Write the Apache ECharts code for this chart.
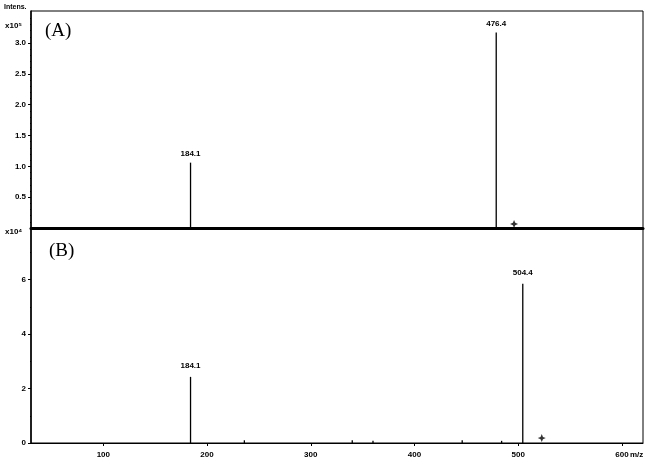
<!DOCTYPE html>
<html><head><meta charset="utf-8">
<script src="https://cdn.jsdelivr.net/npm/echarts@6/dist/echarts.min.js"></script>
<style>html,body{margin:0;padding:0;background:#fff}#c{width:654px;height:470px}</style>
</head><body><div id="c"></div>
<script>
// Panel A (x10^5)
const peaksA_mz = [184.1, 478.8];
const peaksA_int = [1.06, 3.17];
const peaksA_label = ['184.1', '476.4'];
const markerA = [[496, 0.065]];
// Panel B (x10^4)
const peaksB_mz = [184.1, 236, 340, 360, 446, 484, 504.4];
const peaksB_int = [2.43, 0.1, 0.1, 0.08, 0.1, 0.08, 5.85];
const peaksB_label = ['184.1', '', '', '', '', '', '504.4'];
const markerB = [[522.7, 0.18]];
const xTicks = [100, 200, 300, 400, 500, 600];
const yTicksA = [0.5, 1.0, 1.5, 2.0, 2.5, 3.0];
const yTicksB = [0, 2, 4, 6];

const tickFont = {fontFamily: 'Liberation Sans, Arial', fontSize: 8, fontWeight: 'bold', color: '#000'};
const star = 'path://M0,-10 L3,-3 L10,0 L3,3 L0,10 L-3,3 L-10,0 L-3,-3Z';

function peakData(mz, it, lab) {
  return mz.map((m, i) => ({value: [m, it[i]], lab: lab[i]}));
}
const chart = echarts.init(document.getElementById('c'));
chart.setOption({
  animation: false,
  grid: [
    {left: 31, right: 11, top: 11, height: 217, show: true, borderColor: '#000', borderWidth: 1},
    {left: 31, right: 11, top: 228, height: 215, show: true, borderColor: '#000', borderWidth: 1}
  ],
  xAxis: [
    {gridIndex: 0, type: 'value', min: 30.3, max: 620.3, axisLine: {lineStyle: {color: '#000', width: 3}},
     axisTick: {show: false}, axisLabel: {show: false}, splitLine: {show: false}},
    {gridIndex: 1, type: 'value', min: 30.3, max: 620.3, axisLine: {lineStyle: {color: '#000', width: 1}},
     axisTick: {show: true, length: 3, customValues: xTicks, lineStyle: {color: '#000'}},
     axisLabel: Object.assign({customValues: xTicks, margin: 8}, tickFont), splitLine: {show: false}}
  ],
  yAxis: [
    {gridIndex: 0, type: 'value', min: 0, max: 3.52, interval: 0.5,
     axisLine: {show: true, lineStyle: {color: '#000', width: 1.5}},
     axisTick: {show: true, length: 3, customValues: yTicksA, lineStyle: {color: '#000'}},
     minorTick: {show: true, splitNumber: 5, length: 1, lineStyle: {color: '#000'}},
     axisLabel: Object.assign({customValues: yTicksA, margin: 5, formatter: v => v.toFixed(1)}, tickFont),
     splitLine: {show: false}},
    {gridIndex: 1, type: 'value', min: 0, max: 7.9, interval: 2,
     axisLine: {show: true, lineStyle: {color: '#000', width: 1.5}},
     axisTick: {show: true, length: 3, customValues: yTicksB, lineStyle: {color: '#000'}},
     minorTick: {show: true, splitNumber: 2, length: 1, lineStyle: {color: '#000'}},
     axisLabel: Object.assign({customValues: yTicksB, margin: 5}, tickFont),
     splitLine: {show: false}}
  ],
  series: [
    {type: 'bar', xAxisIndex: 0, yAxisIndex: 0, barWidth: 1.3, itemStyle: {color: '#000'},
     data: peakData(peaksA_mz, peaksA_int, peaksA_label),
     label: {show: true, position: 'top', distance: 5, formatter: p => p.data.lab, fontFamily: 'Liberation Sans, Arial', fontSize: 8, fontWeight: 'bold', color: '#000'}},
    {type: 'bar', xAxisIndex: 1, yAxisIndex: 1, barWidth: 1.3, itemStyle: {color: '#000'},
     data: peakData(peaksB_mz, peaksB_int, peaksB_label),
     label: {show: true, position: 'top', distance: 7, formatter: p => p.data.lab, fontFamily: 'Liberation Sans, Arial', fontSize: 8, fontWeight: 'bold', color: '#000'}},
    {type: 'scatter', xAxisIndex: 0, yAxisIndex: 0, symbol: star, symbolSize: 8, itemStyle: {color: '#000'}, data: markerA},
    {type: 'scatter', xAxisIndex: 1, yAxisIndex: 1, symbol: star, symbolSize: 8, itemStyle: {color: '#000'}, data: markerB}
  ],
  graphic: [
    {type: 'text', left: 4, top: 4, style: {text: 'Intens.', font: 'bold 7px Liberation Sans, Arial', fill: '#000'}},
    {type: 'text', left: 5, top: 22, style: {text: 'x10⁵', font: 'bold 8px Liberation Sans, Arial', fill: '#000'}},
    {type: 'text', left: 5, top: 228, style: {text: 'x10⁴', font: 'bold 8px Liberation Sans, Arial', fill: '#000'}},
    {type: 'text', left: 45, top: 22, style: {text: '(A)', font: '19px Liberation Serif, DejaVu Serif, serif', fill: '#000'}},
    {type: 'text', left: 49, top: 242, style: {text: '(B)', font: '19px Liberation Serif, DejaVu Serif, serif', fill: '#000'}},
    {type: 'text', left: 630, top: 451, style: {text: 'm/z', font: 'bold 8px Liberation Sans, Arial', fill: '#000'}}
  ]
});
</script></body></html>
